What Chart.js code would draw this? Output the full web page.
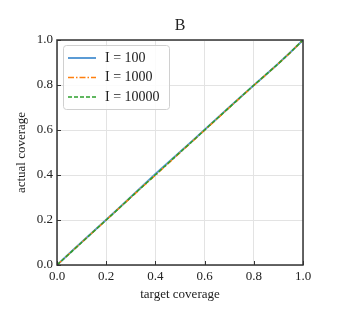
<!DOCTYPE html>
<html>
<head>
<meta charset="utf-8">
<script src="https://cdn.jsdelivr.net/npm/chart.js@4.4.1/dist/chart.umd.min.js"></script>
<style>
  html, body { margin: 0; padding: 0; background: #fff; }
  #wrap { width: 341px; height: 331px; }
</style>
</head>
<body>
<div id="wrap"><canvas id="chart" width="341" height="331"></canvas></div>
<script>
// ===== DADOS =====
const targetCoverage = [0, 0.05, 0.1, 0.15, 0.2, 0.25, 0.3, 0.35, 0.4, 0.45, 0.5, 0.55, 0.6, 0.65, 0.7, 0.75, 0.8, 0.85, 0.9, 0.95, 1.0];
const actualI100 =   [0, 0.051, 0.101, 0.151, 0.201, 0.251, 0.302, 0.353, 0.404, 0.453, 0.502, 0.551, 0.601, 0.651, 0.701, 0.750, 0.799, 0.847, 0.896, 0.947, 1.0];
const actualI1000 =  [0, 0.050, 0.100, 0.150, 0.200, 0.250, 0.300, 0.350, 0.399, 0.449, 0.499, 0.549, 0.599, 0.649, 0.699, 0.749, 0.798, 0.846, 0.895, 0.946, 1.0];
const actualI10000 = [0, 0.050, 0.100, 0.150, 0.200, 0.250, 0.301, 0.351, 0.401, 0.451, 0.501, 0.550, 0.600, 0.650, 0.700, 0.750, 0.799, 0.847, 0.895, 0.946, 1.0];
const seriesLabels = ['I = 100', 'I = 1000', 'I = 10000'];
const tickValues = [0, 0.2, 0.4, 0.6, 0.8, 1.0];
const chartTitle = 'B';

const serif = "'Liberation Serif', 'DejaVu Serif', serif";
const colors = ['#5b9bd5', '#ff7f0e', '#2ca02c'];
const dashes = [[], [6, 2, 1.5, 2], [4, 2]];

function toPoints(ys) {
    return targetCoverage.map((x, i) => ({ x: x, y: ys[i] }));
}

// Título centralizado sobre a área do gráfico
const areaTitle = {
    id: 'areaTitle',
    afterDraw(chart) {
        const ctx = chart.ctx;
        const area = chart.chartArea;
        ctx.save();
        ctx.font = '16px ' + serif;
        ctx.fillStyle = '#222';
        ctx.textAlign = 'center';
        ctx.textBaseline = 'middle';
        ctx.fillText(chartTitle, (area.left + area.right) / 2, 26);
        ctx.restore();
    }
};

// Marcas internas nos eixos esquerdo e inferior
const innerTicks = {
    id: 'innerTicks',
    afterDraw(chart) {
        const ctx = chart.ctx;
        const area = chart.chartArea;
        const xs = chart.scales.x, ys = chart.scales.y;
        ctx.save();
        ctx.strokeStyle = '#333';
        ctx.lineWidth = 1;
        tickValues.forEach(v => {
            const px = Math.round(xs.getPixelForValue(v)) + 0.5;
            ctx.beginPath();
            ctx.moveTo(px, area.bottom);
            ctx.lineTo(px, area.bottom - 4);
            ctx.stroke();
            const py = Math.round(ys.getPixelForValue(v)) + 0.5;
            ctx.beginPath();
            ctx.moveTo(area.left, py);
            ctx.lineTo(area.left + 4, py);
            ctx.stroke();
        });
        // moldura
        ctx.strokeStyle = '#333';
        ctx.lineWidth = 1.5;
        ctx.strokeRect(area.left, area.top, area.right - area.left, area.bottom - area.top);
        ctx.restore();
    }
};

// Legenda dentro da área do gráfico
const insideLegend = {
    id: 'insideLegend',
    afterDraw(chart) {
        const ctx = chart.ctx;
        const area = chart.chartArea;
        const x0 = area.left + 6, y0 = area.top + 5;
        const w = 106, h = 64;
        ctx.save();
        ctx.fillStyle = 'rgba(255,255,255,0.85)';
        ctx.strokeStyle = '#d0d0d0';
        ctx.lineWidth = 1;
        ctx.beginPath();
        ctx.roundRect(x0 + 0.5, y0 + 0.5, w, h, 3);
        ctx.fill();
        ctx.stroke();
        ctx.font = '14px ' + serif;
        ctx.textBaseline = 'middle';
        seriesLabels.forEach((label, i) => {
            const y = y0 + 13 + i * 19.5;
            ctx.strokeStyle = colors[i];
            ctx.lineWidth = i === 0 ? 2 : 1.5;
            ctx.setLineDash(dashes[i]);
            ctx.beginPath();
            ctx.moveTo(x0 + 5, y);
            ctx.lineTo(x0 + 33, y);
            ctx.stroke();
            ctx.setLineDash([]);
            ctx.fillStyle = '#222';
            ctx.fillText(label, x0 + 42, y);
        });
        ctx.restore();
    }
};

const datasets = [actualI100, actualI1000, actualI10000].map((ys, i) => ({
    label: seriesLabels[i],
    data: toPoints(ys),
    borderColor: colors[i],
    borderWidth: i === 0 ? 2 : 1.5,
    borderDash: dashes[i],
    pointRadius: 0,
    tension: 0,
    fill: false,
    order: 2 - i
}));

new Chart(document.getElementById('chart'), {
    type: 'line',
    data: { datasets: datasets },
    options: {
        responsive: false,
        animation: false,
        layout: { padding: { left: 14, right: 38, top: 40, bottom: 29 } },
        plugins: {
            legend: { display: false },
            tooltip: { enabled: false },
            title: { display: false }
        },
        scales: {
            x: {
                type: 'linear',
                min: 0, max: 1,
                afterFit(scale) { scale.height = 37; },
                afterBuildTicks(scale) { scale.ticks = tickValues.map(v => ({ value: v })); },
                ticks: {
                    color: '#222',
                    font: { family: serif, size: 13 },
                    padding: 4,
                    maxRotation: 0,
                    callback: v => v.toFixed(1)
                },
                grid: { color: '#e3e3e3', drawTicks: false },
                border: { display: false },
                title: {
                    display: true,
                    text: 'target coverage',
                    color: '#222',
                    font: { family: serif, size: 13 },
                    padding: { top: 0, bottom: 0 }
                }
            },
            y: {
                type: 'linear',
                min: 0, max: 1,
                afterFit(scale) { scale.width = 43; },
                afterBuildTicks(scale) { scale.ticks = tickValues.map(v => ({ value: v })); },
                ticks: {
                    color: '#222',
                    font: { family: serif, size: 13 },
                    padding: 4,
                    callback: v => v.toFixed(1)
                },
                grid: { color: '#e3e3e3', drawTicks: false },
                border: { display: false },
                title: {
                    display: true,
                    text: 'actual coverage',
                    color: '#222',
                    font: { family: serif, size: 13 },
                    padding: { top: 0, bottom: 0 }
                }
            }
        }
    },
    plugins: [areaTitle, innerTicks, insideLegend]
});
</script>
</body>
</html>
